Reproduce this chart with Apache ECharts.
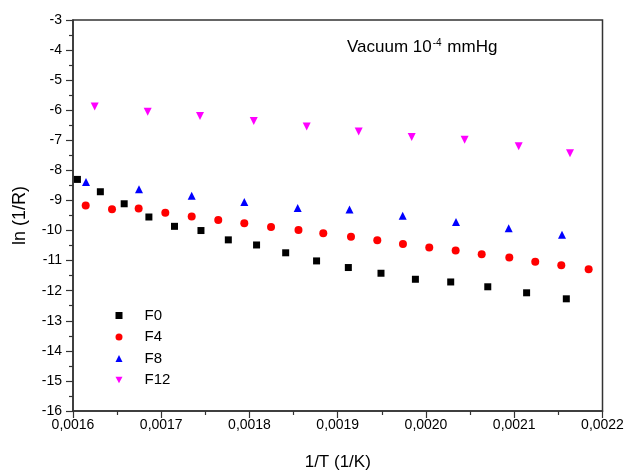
<!DOCTYPE html>
<html>
<head>
<meta charset="utf-8">
<script src="https://cdn.jsdelivr.net/npm/echarts@6/dist/echarts.min.js"></script>
<style>html,body{margin:0;padding:0;background:#fff}#c{width:628px;height:471px}</style>
</head>
<body>
<div id="c"></div>
<script>
var xTicks = [0.0016, 0.0017, 0.0018, 0.0019, 0.0020, 0.0021, 0.0022];
var yTicks = [-16, -15, -14, -13, -12, -11, -10, -9, -8, -7, -6, -5, -4, -3];

var f0X = [0.001605, 0.001631, 0.001658, 0.001686, 0.001715, 0.001745, 0.001776, 0.001808, 0.001841, 0.001876, 0.001912, 0.001949, 0.001988, 0.002028, 0.002070, 0.002114, 0.002159];
var f0Y = [-8.30, -8.71, -9.11, -9.55, -9.86, -10.00, -10.31, -10.48, -10.74, -11.01, -11.23, -11.42, -11.62, -11.71, -11.87, -12.07, -12.27];

var f4X = [0.0016144, 0.0016442, 0.0016744, 0.0017046, 0.0017345, 0.0017646, 0.0017941, 0.0018244, 0.0018555, 0.0018836, 0.0019150, 0.0019448, 0.0019739, 0.0020037, 0.0020336, 0.0020631, 0.0020944, 0.0021238, 0.0021533, 0.0021843];
var f4Y = [-9.17, -9.29, -9.27, -9.41, -9.53, -9.65, -9.76, -9.88, -9.98, -10.09, -10.21, -10.32, -10.45, -10.56, -10.66, -10.79, -10.90, -11.04, -11.15, -11.29];

var f8X = [0.0016147, 0.0016748, 0.0017345, 0.0017941, 0.0018546, 0.0019133, 0.0019736, 0.0020340, 0.0020937, 0.0021541];
var f8Y = [-8.39, -8.63, -8.84, -9.05, -9.25, -9.30, -9.51, -9.72, -9.92, -10.14];

var f12X = [0.0016246, 0.0016846, 0.0017439, 0.0018048, 0.0018648, 0.0019237, 0.0019838, 0.0020438, 0.0021050, 0.0021632];
var f12Y = [-5.88, -6.05, -6.19, -6.36, -6.54, -6.71, -6.89, -6.98, -7.20, -7.43];

var seriesNames = ['F0', 'F4', 'F8', 'F12'];

function pairs(xs, ys) { return xs.map(function (x, i) { return [x, ys[i]]; }); }

var DOWN_TRI = 'path://M0,0 L10,0 L5,9 Z';
var FONT = '"Liberation Sans", Arial, sans-serif';
var chart = echarts.init(document.getElementById('c'), null, {renderer: 'canvas'});
chart.setOption({
  animation: false,
  backgroundColor: '#fff',
  title: {
    left: 342, top: 33,
    text: '{a|Vacuum 10}{s|-4}{a| mmHg}',
    textStyle: {
      fontWeight: 'normal',
      rich: {
        a: {fontFamily: FONT, fontSize: 17, fontWeight: 'normal', color: '#000', verticalAlign: 'bottom'},
        s: {fontFamily: FONT, fontSize: 10, fontWeight: 'normal', color: '#000', verticalAlign: 'top', padding: [0, 1, 8, 1]}
      }
    }
  },
  legend: {
    orient: 'vertical', left: 110.5, top: 303,
    itemWidth: 7, itemHeight: 7, itemGap: 6.5,
    data: [
      {name: seriesNames[0], icon: 'rect'},
      {name: seriesNames[1], icon: 'circle'},
      {name: seriesNames[2], icon: 'triangle'},
      {name: seriesNames[3], icon: DOWN_TRI}
    ],
    textStyle: {fontFamily: FONT, fontSize: 15, color: '#000', padding: [0, 0, 0, 17]}
  },
  grid: {left: 73, right: 25.5, top: 20, bottom: 60, outerBoundsMode: 'none', containLabel: false,
    show: true, borderColor: '#333', borderWidth: 1.5, backgroundColor: 'transparent'},
  xAxis: {
    type: 'value', min: xTicks[0], max: xTicks[xTicks.length - 1], interval: 0.0001,
    name: '1/T (1/K)', nameLocation: 'middle', nameGap: 43, nameMoveOverlap: false,
    nameTextStyle: {fontFamily: FONT, fontSize: 17, color: '#000'},
    axisLine: {show: true, lineStyle: {color: '#333', width: 1.5}},
    axisTick: {show: true, inside: false, length: 7, lineStyle: {color: '#333', width: 1.2}},
    minorTick: {show: true, splitNumber: 2, length: 4, lineStyle: {color: '#333', width: 1.2}},
    splitLine: {show: false},
    axisLabel: {margin: 7, fontFamily: FONT, fontSize: 14, color: '#000',
      formatter: function (v) { return v.toFixed(4).replace('.', ','); }}
  },
  yAxis: {
    type: 'value', min: yTicks[0], max: yTicks[yTicks.length - 1], interval: 1,
    name: 'ln (1/R)', nameLocation: 'middle', nameGap: 44, nameRotate: 90, nameMoveOverlap: false,
    nameTextStyle: {fontFamily: FONT, fontSize: 18, color: '#000'},
    axisLine: {show: true, lineStyle: {color: '#333', width: 1.5}},
    axisTick: {show: true, inside: false, length: 7, lineStyle: {color: '#333', width: 1.2}},
    minorTick: {show: true, splitNumber: 2, length: 4, lineStyle: {color: '#333', width: 1.2}},
    splitLine: {show: false},
    axisLabel: {margin: 11, fontFamily: FONT, fontSize: 14, color: '#000'}
  },
  series: [
    {name: seriesNames[0], type: 'scatter', symbol: 'rect', symbolSize: 7, itemStyle: {color: '#000000', opacity: 1}, data: pairs(f0X, f0Y)},
    {name: seriesNames[1], type: 'scatter', symbol: 'circle', symbolSize: 8, itemStyle: {color: '#ff0000', opacity: 1}, data: pairs(f4X, f4Y)},
    {name: seriesNames[2], type: 'scatter', symbol: 'triangle', symbolSize: 8, itemStyle: {color: '#0000ff', opacity: 1}, data: pairs(f8X, f8Y)},
    {name: seriesNames[3], type: 'scatter', symbol: 'triangle', symbolRotate: 180, symbolSize: 8, itemStyle: {color: '#ff00ff', opacity: 1}, data: pairs(f12X, f12Y)}
  ]
});
</script>
</body>
</html>
